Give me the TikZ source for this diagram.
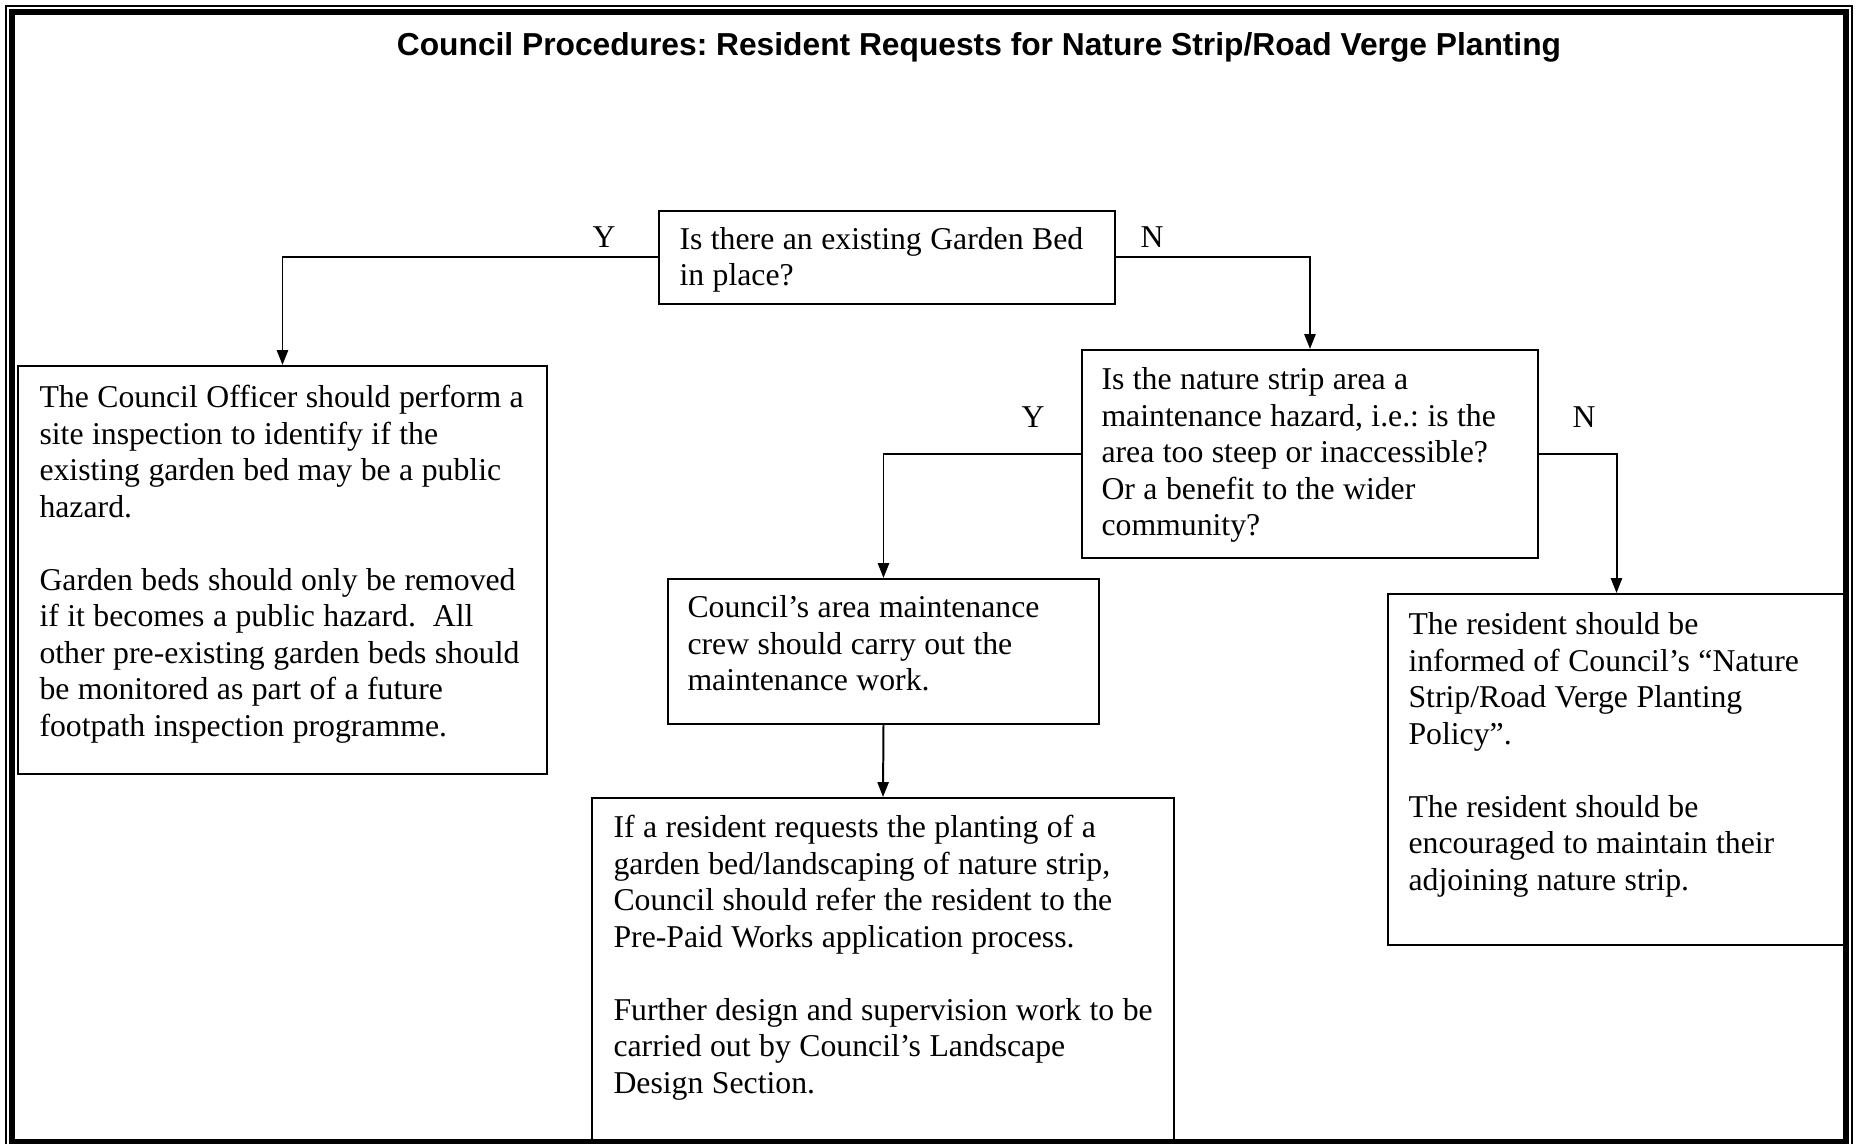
\documentclass[tikz,border=0pt]{standalone}
\usepackage{fontspec}
\setmainfont{Liberation Serif}[Ligatures={TeX,NoCommon}]
\newfontfamily\titlefont{Liberation Sans}
\usetikzlibrary{arrows.meta}
\newcommand\pu{0.378pt}
\newcommand\tightsp{\spaceskip=3.2pt plus 0pt minus 0pt\relax\strut}
\frenchspacing
\begin{document}
\begin{tikzpicture}[x=0.378pt, y=-0.378pt,
  box/.style={draw, line width=0.75pt, inner sep=0pt, anchor=north west},
  txt/.style={font=\fontsize{12}{13.8}\selectfont, anchor=north west, inner sep=0pt, text width=300pt, align=left},
  lbl/.style={font=\fontsize{12}{13.8}\selectfont, anchor=base, inner sep=0pt},
  arr/.style={draw, line width=0.75pt, -{Triangle[length=5.6pt,width=4.2pt]}},
]
\useasboundingbox (0,0) rectangle (1858,1144);

% boxes
\node[box, minimum width=456*\pu, minimum height=93*\pu]  (A) at (658,210) {};
\node[box, minimum width=456*\pu, minimum height=208*\pu] (B) at (1081,349) {};
\node[box, minimum width=431*\pu, minimum height=145*\pu] (C) at (667,578) {};
\node[box, minimum width=582*\pu, minimum height=345*\pu] (E) at (591,797) {};
\node[box, minimum width=457*\pu, minimum height=351*\pu] (D) at (1387,593) {};
\node[box, minimum width=529*\pu, minimum height=408*\pu] (L) at (17,365) {};

% texts
\node[txt] (tA) at (679,223) {\tightsp Is there an existing Garden Bed\\in place?};
\node[txt] (tB) at (1101,363.5) {\tightsp Is the nature strip area a\\maintenance hazard, i.e.: is the\\area too steep or inaccessible?\\Or a benefit to the wider\\community?};
\node[txt] (tC) at (687,591.5) {\tightsp Council’s area maintenance\\crew should carry out the\\maintenance work.};
\node[txt] (tE) at (613,811.5) {\tightsp If a resident requests the planting of a\\garden bed/landscaping of nature strip,\\Council should refer the resident to the\\Pre-Paid Works application process.\\[13.8pt]Further design and supervision work to be\\carried out by Council’s Landscape\\Design Section.};
\node[txt] (tD) at (1408,608.5) {\tightsp The resident should be\\informed of Council’s “Nature\\Strip/Road Verge Planting\\Policy”.\\[13.8pt]The resident should be\\encouraged to maintain their\\adjoining nature strip.};
\node[txt] (tL) at (39,381.5) {\tightsp The Council Officer should perform a\\site inspection to identify if the\\existing garden bed may be a public\\hazard.\\[13.8pt]Garden beds should only be removed\\if it becomes a public hazard.\ \ All\\other pre-existing garden beds should\\be monitored as part of a future\\footpath inspection programme.};

% title
\node[anchor=base, inner sep=0pt, font=\titlefont\bfseries\fontsize{12}{14}\selectfont] (title) at (979,56) {Council Procedures: Resident Requests for Nature Strip/Road Verge Planting};

% labels
\node[lbl] (yA) at (604,248) {Y};
\node[lbl] (nA) at (1152,248) {N};
\node[lbl] (yB) at (1033,428) {Y};
\node[lbl] (nB) at (1584,428) {N};

% connectors
\draw[arr] (A.west) -| (L.north);
\draw[arr] (A.east) -| (B.north);
\draw[arr] (B.west) -| (C.north);
\draw[arr] (B.east) -| (D.north);
\draw[arr] (C.south) -- (E.north);

% frame
\draw[line width=2.27pt] (12,12) rectangle (1846,1142);
\draw[line width=0.5pt] (6,6) rectangle (1852,1148);
\end{tikzpicture}
\end{document}
